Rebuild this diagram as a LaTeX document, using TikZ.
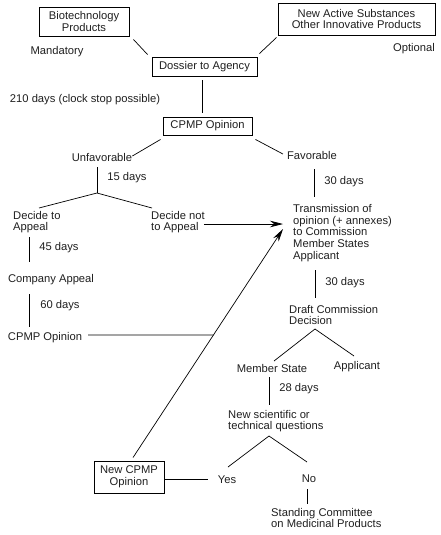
\documentclass[tikz,border=0pt]{standalone}
\usepackage{fontspec}
\setmainfont{Liberation Sans}
\usetikzlibrary{calc,arrows.meta}
\begin{document}
\begin{tikzpicture}[x=1pt,y=-1pt,
  every node/.style={font=\fontsize{11.2}{11.7}\selectfont, text=black!88},
  txt/.style={inner sep=0pt},
  ltxt/.style={inner sep=0pt, align=left, anchor=west},
  boxnode/.style={draw, line width=0.9pt, align=center, inner sep=0pt},
  ln/.style={line width=0.7pt},
  arr/.style={line width=0.7pt, -{Stealth[length=13pt,width=6.5pt]}}]
\useasboundingbox (0,0) rectangle (441,535);
% boxes
\node[boxnode, minimum width=90pt, minimum height=29pt] (bio) at (84,21.5) {Biotechnology\\Products};
\node[boxnode, minimum width=157pt, minimum height=32pt] (nas) at (356.5,19) {New Active Substances\\Other Innovative Products};
\node[boxnode, minimum width=105pt, minimum height=19pt] (dos) at (204.5,66.5) {Dossier to Agency};
\node[boxnode, minimum width=89pt, minimum height=18pt] (cpmp) at (207.5,126) {CPMP Opinion};
\node[boxnode, minimum width=70pt, minimum height=32pt] (ncpmp) at (129,477) {New CPMP\\Opinion};
% text
\node[txt] (mand) at (57,52) {Mandatory};
\node[txt] (opt) at (414,49) {Optional};
\node[txt] (d210) at (85,100) {210 days (clock stop possible)};
\node[txt] (unf) at (102,157) {Unfavorable};
\node[txt] (fav) at (312,155) {Favorable};
\node[txt] (d15) at (127,178) {15 days};
\node[txt] (d30a) at (344,182) {30 days};
\node[ltxt] (dta) at (13,222) {Decide to\\Appeal};
\node[ltxt] (dnta) at (151,222) {Decide not\\to Appeal};
\node[ltxt] (trans) at (293,233) {Transmission of\\opinion (+ annexes)\\to Commission\\Member States\\Applicant};
\node[txt] (d45) at (59,248) {45 days};
\node[txt] (ca) at (51,280) {Company Appeal};
\node[txt] (d30b) at (345,283) {30 days};
\node[txt] (d60) at (60,306) {60 days};
\node[ltxt] (draft) at (289,315) {Draft Commission\\Decision};
\node[txt] (cpmp2) at (45,338) {CPMP Opinion};
\node[txt] (ms) at (272,368) {Member State};
\node[txt] (app) at (357,367) {Applicant};
\node[txt] (d28) at (299,389) {28 days};
\node[ltxt] (nstq) at (228,421) {New scientific or\\technical questions};
\node[txt] (yes) at (227,480) {Yes};
\node[txt] (no) at (309,479) {No};
\node[ltxt] (scmp) at (271,518) {Standing Committee\\on Medicinal Products};
% coordinates
\coordinate (s1) at (97,193);
\coordinate (s2) at (315,329);
\coordinate (s3) at (269,436);
\coordinate (dgA) at (133,458);
\coordinate (dgB) at (283,229);
\coordinate (hx) at ($(dgA)!0.537!(dgB)$);
% connectors
\draw[ln] (bio.south east) ++(4,3) -- ($(dos.north west)+(-4,-2)$);
\draw[ln] (nas.south west) ++(-1,2) -- ($(dos.north east)+(2,-3)$);
\draw[ln] ([xshift=-2.5pt,yshift=-4pt]dos.south) -- ([xshift=-5.5pt,yshift=4pt]cpmp.north);
\draw[ln] ([xshift=-2pt,yshift=-4pt]cpmp.south west) -- ([yshift=1pt]unf.east);
\draw[ln] ([xshift=3pt,yshift=-4pt]cpmp.south east) -- ([xshift=-4pt,yshift=1pt]fav.west);
\draw[ln] (unf.south -| s1) ++(0,6) -- (s1);
\draw[ln] (s1) -- (39,208) coordinate (dtaTop);
\draw[ln] (s1) -- (152,208) coordinate (dntaTop);
\draw[arr] ([xshift=-1pt,yshift=-2pt]dnta.east) -- ([yshift=-2pt]dnta.east -| dgB);
\draw[ln] ([xshift=2pt]fav.south) ++(0,10) -- (314,197) coordinate (transTop);
\draw[ln] (29,237) coordinate (dtaBot) -- (29,262) coordinate (caTop);
\draw[ln] (29,294) coordinate (caBot) -- (29,327) coordinate (cpmp2Top);
\draw[ln] ([xshift=6pt,yshift=3pt]cpmp2.east) -- (hx);
\draw[ln] (315,270) coordinate (transBot) -- (315,298) coordinate (draftTop);
\draw[ln] (s2) -- (274,361) coordinate (msTop);
\draw[ln] (s2) -- (354,356) coordinate (appTop);
\draw[ln] (269,377) coordinate (msBot) -- (269,405) coordinate (nstqTop);
\draw[ln] (s3) -- (228,467) coordinate (yesTop);
\draw[ln] (s3) -- (307,462) coordinate (noTop);
\draw[ln] ([yshift=-2pt]ncpmp.east) -- ([xshift=-10pt,yshift=1pt]yes.west);
\draw[ln] (307,489) coordinate (noBot) -- (307,504) coordinate (scmpTop);
\draw[arr] ([xshift=4pt,yshift=3pt]ncpmp.north) -- (dgB);
\end{tikzpicture}
\end{document}
